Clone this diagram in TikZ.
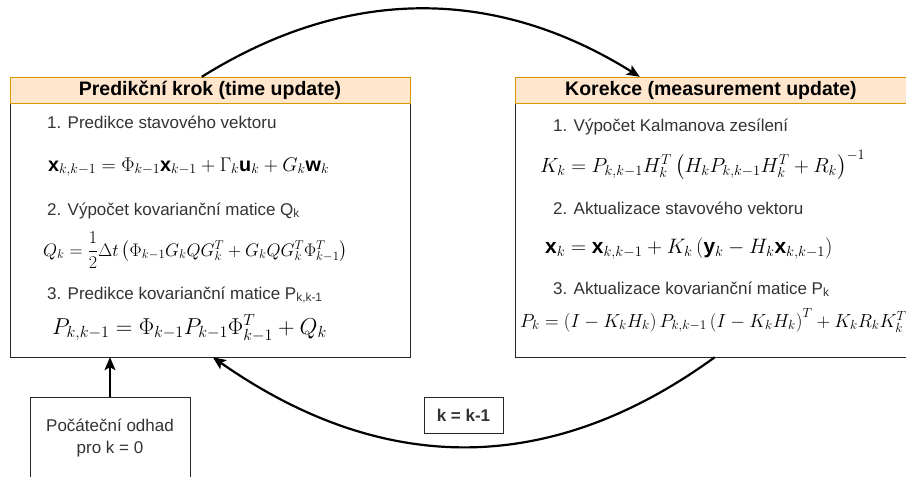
\RequirePackage{fix-cm}
\documentclass[tikz,border=0pt]{standalone}
\usepackage{fontspec}
\setmainfont{Liberation Sans}
\usepackage{amsmath}
\usetikzlibrary{arrows.meta,positioning,calc}
\definecolor{hdfill}{HTML}{FFE6CC}
\definecolor{hddraw}{HTML}{D79B00}
\definecolor{txtgray}{HTML}{333333}

\begin{document}
\begin{tikzpicture}[x=1pt,y=-1pt,>={Stealth[length=13pt,width=11pt,inset=3pt]},
box/.style={draw=black!85,fill=white,minimum width=400pt,minimum height=280pt,inner sep=0pt},
head/.style={draw=hddraw,fill=hdfill,minimum width=400pt,minimum height=26pt,inner sep=0pt,font=\fontsize{19.5}{22}\selectfont\bfseries},
txt/.style={anchor=base west,inner sep=0pt,text=txtgray,font=\fontsize{17}{20}\selectfont},
eq/.style={anchor=base west,inner sep=0pt},
smallbox/.style={draw=black!85,fill=white,inner sep=0pt,text=txtgray,align=center,font=\fontsize{17}{21}\selectfont},
loop/.style={line width=2.2pt,->}]
\useasboundingbox (0,0) rectangle (906,477);
% prediction box
\node[box] (pred) at (210,217) {};
\node[head] (predhead) at (210,90) {Predikční krok (time update)};
\node[txt] (p1) at (47,128) {1. Predikce stavového vektoru};
\node[eq,font=\fontsize{19.8}{21}\selectfont] (pf1) at (48,171) {$\mathbf{x}_{k,k-1}=\Phi_{k-1}\mathbf{x}_{k-1}+\Gamma_k\mathbf{u}_k+G_k\mathbf{w}_k$};
\node[txt] (p2) at (47,215) {2. Výpočet kovarianční matice Q\textsubscript{k}};
\node[eq,font=\fontsize{18.1}{20}\selectfont] (pf2) at (43,256) {$Q_k=\dfrac{1}{2}\Delta t\left(\Phi_{k-1}G_kQG_k^T+G_kQG_k^T\Phi_{k-1}^T\right)$};
\node[txt] (p3) at (47,299) {3. Predikce kovarianční matice P\textsubscript{k,k-1}};
\node[eq,font=\fontsize{23}{25}\selectfont] (pf3) at (52,334) {$P_{k,k-1}=\Phi_{k-1}P_{k-1}\Phi_{k-1}^T+Q_k$};
% correction box
\node[box,minimum width=392pt] (korr) at (711,217) {};
\node[head,minimum width=392pt] (korrhead) at (711,90) {Korekce (measurement update)};
\node[txt] (k1) at (553,131) {1. Výpočet Kalmanova zesílení};
\node[eq,font=\fontsize{20.5}{22}\selectfont] (kf1) at (540,172) {$K_k=P_{k,k-1}H_k^T\left(H_kP_{k,k-1}H_k^T+R_k\right)^{-1}$};
\node[txt] (k2) at (553,214) {2. Aktualizace stavového vektoru};
\node[eq,font=\fontsize{20.9}{22}\selectfont] (kf2) at (545,253) {$\mathbf{x}_k=\mathbf{x}_{k,k-1}+K_k\left(\mathbf{y}_k-H_k\mathbf{x}_{k,k-1}\right)$};
\node[txt] (k3) at (553,294) {3. Aktualizace kovarianční matice P\textsubscript{k}};
\node[eq,font=\fontsize{18.9}{20}\selectfont] (kf3) at (520,327) {$P_k=\left(I-K_kH_k\right)P_{k,k-1}\left(I-K_kH_k\right)^T+K_kR_kK_k^T$};
% initial estimate and counter
\node[smallbox,minimum width=160pt,minimum height=82pt] (init) at (110,438) {Počáteční odhad\\pro k = 0};
\node[smallbox,minimum width=79pt,minimum height=36pt,font=\fontsize{17}{20}\selectfont\bfseries] (step) at (463.5,415) {k = k-1};
% connectors
\draw[line width=2pt,->] (init.north) -- (init.north |- pred.south);
\draw[loop] ([xshift=192pt]pred.north west) to[out=32,in=148] ([xshift=125pt]korr.north west);
\draw[loop] ([xshift=200pt]korr.south west) to[out=216,in=325,looseness=1.05] ([xshift=203pt]pred.south west);
\end{tikzpicture}
\end{document}
